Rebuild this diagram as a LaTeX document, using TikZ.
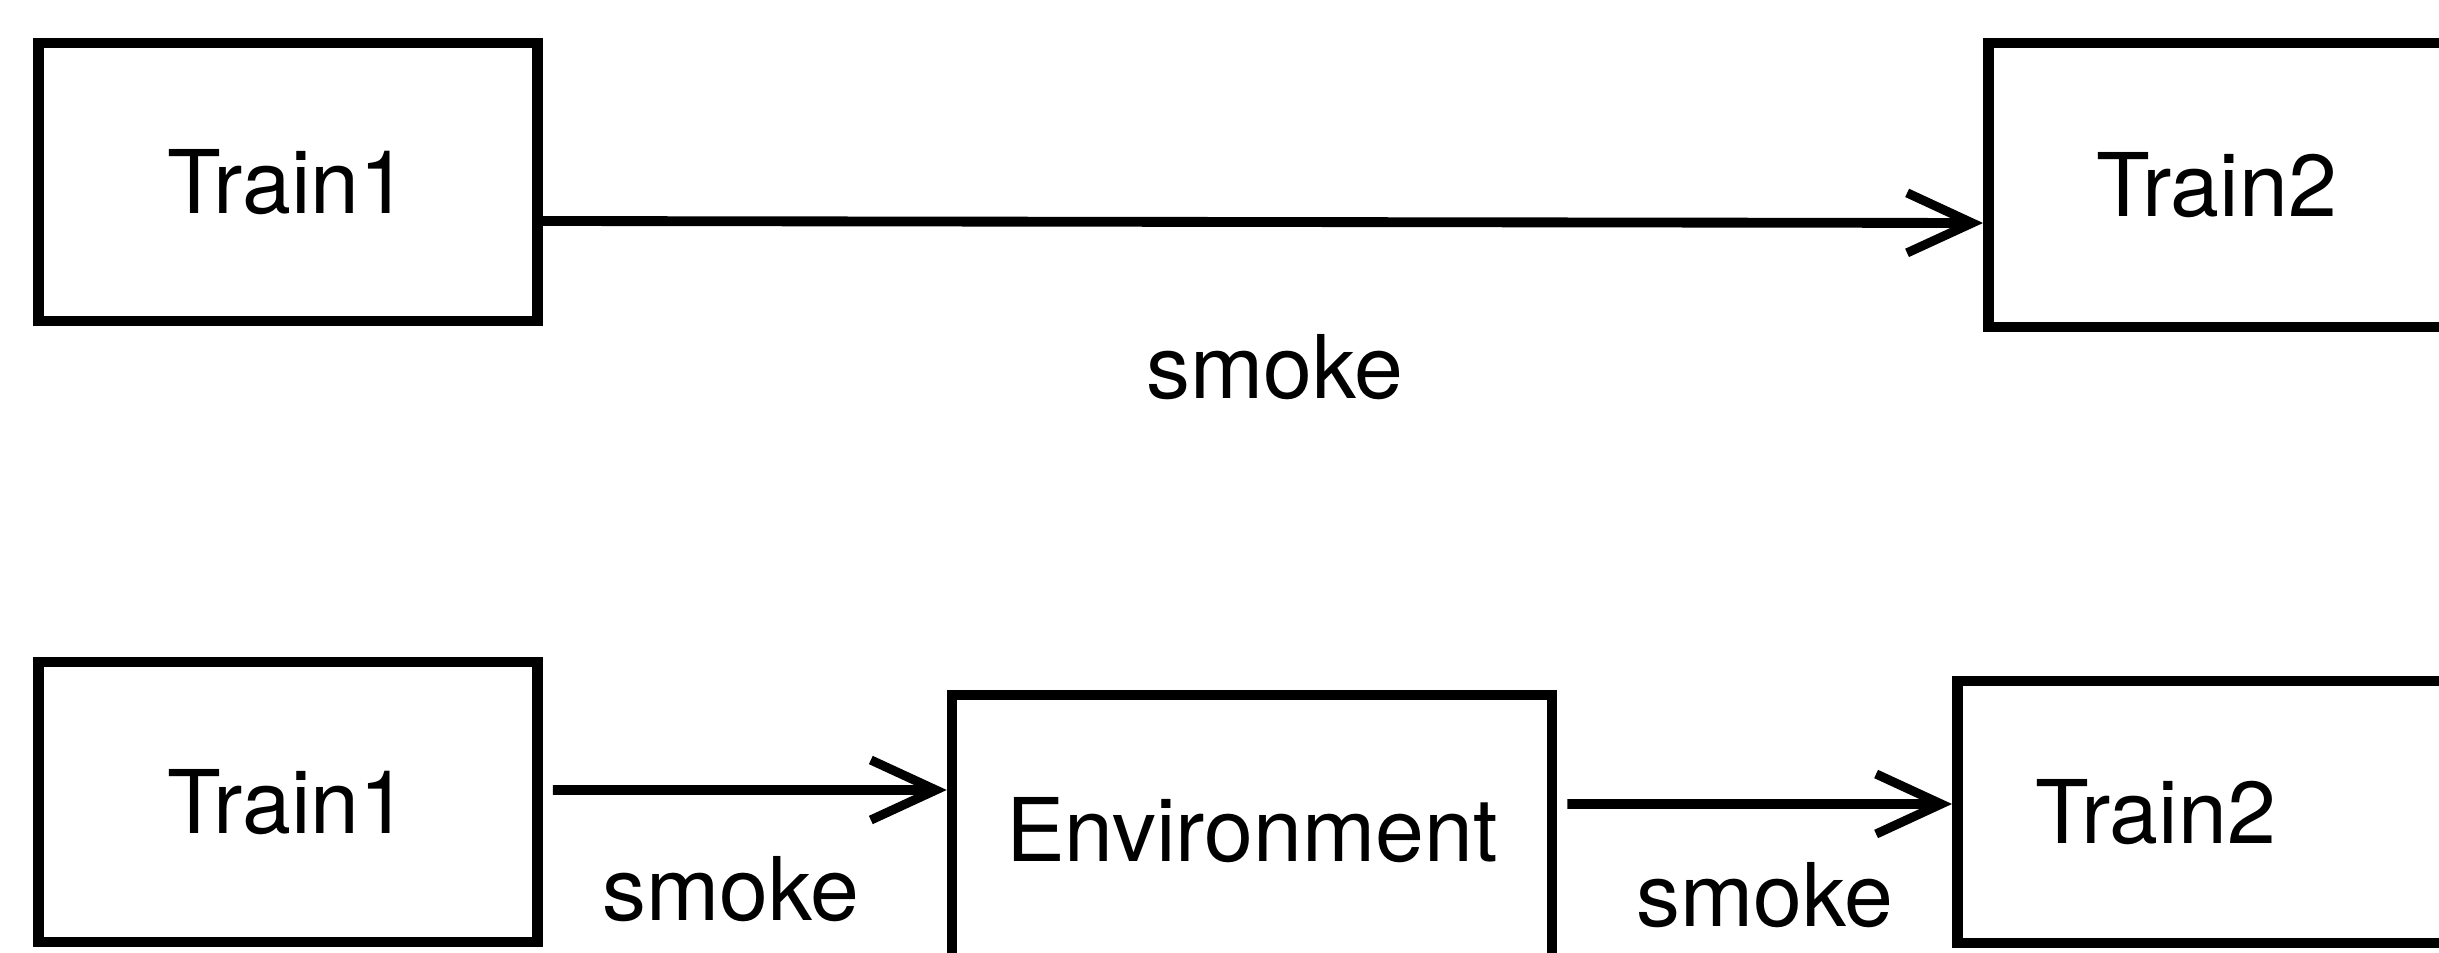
\documentclass[tikz,border=0pt]{standalone}
\usepackage{fontspec}
\setmainfont{TeX Gyre Heros}
\usetikzlibrary{arrows.meta}
\usetikzlibrary{positioning}

\begin{document}
\begin{tikzpicture}[B/.style = {rectangle, draw, line width=3pt, minimum width=4.99cm,
			minimum height=2.78cm, inner sep=2pt, font=\fontsize{25}{29}\selectfont},
		L/.style = {font=\fontsize{25}{29}\selectfont},
		>={Straight Barb[length=6.5mm,width=6mm,line width=2.6pt]}
		]
		\useasboundingbox (0,0) rectangle (24.39,9.52);
		\clip (0,0) rectangle (24.39,9.52);
		% direct coupling
		\node[B] (1) at (2.88,7.70) {Train1};
		\node[B, anchor=west, align=left, minimum width=4.62cm, minimum height=2.84cm,
			inner xsep=1.08cm, text width=2.46cm] (2) at (19.83,7.67) {Train2};
		\node[L] (s1) at (12.75,5.85) {smoke};
		
		% coupling through the environment
		\begin{scope}
			\node[B, minimum height=2.80cm] (3) at (2.88,1.50) {Train1};
			\node[B, minimum width=6cm, minimum height=2.7cm] (4) at (12.52,1.22) {Environment};
			\node[B, anchor=west, align=left, minimum width=4.93cm, minimum height=2.62cm,
				inner xsep=0.78cm, text width=3.37cm] (5) at (19.52,1.40) {Train2};
			\node[L] (s2) at (7.31,0.63) {smoke};
			\node[L] (s3) at (17.65,0.57) {smoke};
		\end{scope}
		
		\draw[line width=2.8pt] ([yshift=-3.9mm]1.east) edge[->] ([yshift=-3.8mm]2.west);
		\draw[line width=2.8pt] ([xshift=1mm,yshift=1.2mm]3.east) edge[->] ([yshift=4.0mm]4.west);
		\draw[line width=2.8pt] ([xshift=1mm,yshift=2.6mm]4.east) edge[->] ([yshift=0.8mm]5.west);
	\end{tikzpicture}
\end{document}
